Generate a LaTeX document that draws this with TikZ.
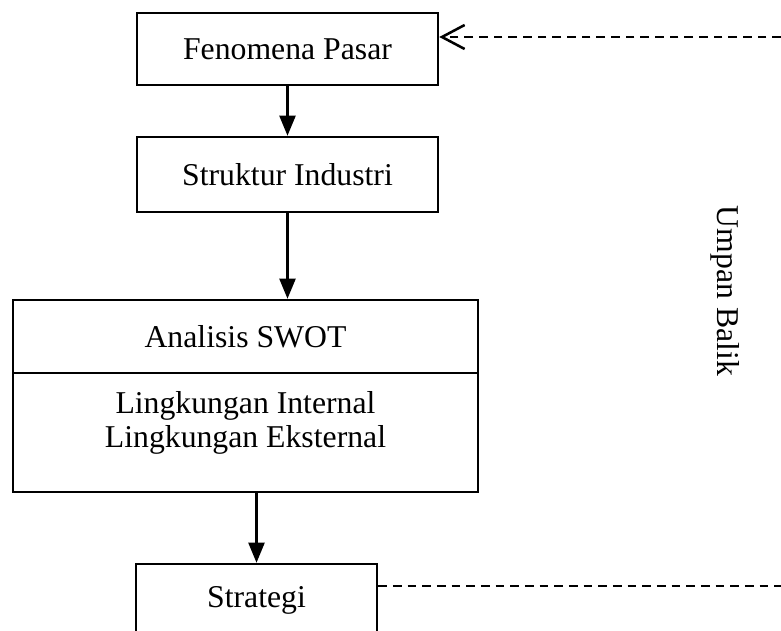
\documentclass[tikz,border=0pt]{standalone}
\usepackage{fontspec}
\setmainfont{Liberation Serif}
\usetikzlibrary{arrows.meta}

\tikzset{
  kotak/.style={draw, line width=1.9pt, inner sep=0pt, align=center},
  panah/.style={line width=1.6pt, -{Triangle[length=15pt,width=12pt]}},
  balik/.style={line width=2pt, dash pattern=on 6.5pt off 4.5pt}
}

\begin{document}
\begin{tikzpicture}[x=0.75pt,y=-0.75pt, font=\fontsize{23.8}{25}\selectfont]
        \clip (0,0) rectangle (781,631);
        \node[kotak, minimum width=225.75pt, minimum height=54pt](fenomena) at (287.5,49) {Fenomena Pasar};
        \node[kotak, minimum width=225.75pt, minimum height=56.25pt](struktur) at (287.5,174.5) {Struktur Industri};
        \node[kotak, minimum width=348.75pt, minimum height=54.75pt](swot) at (245.5,336.5) {Analisis SWOT};  % atas
        \node[kotak, minimum width=348.75pt, minimum height=89.25pt](lingk) at (245.5,432.5) {};  % bawah
        \node[align=center, inner sep=0pt](lingktxt) at (245.5,423) {Lingkungan Internal\\[0.6pt]Lingkungan Eksternal};
        \node[kotak, minimum width=180.75pt, minimum height=54pt](strategi) at (256.5,600) {Strategi};
        \node[rotate=-90, inner sep=0pt](umpan) at (725,291) {Umpan Balik};

        \draw[panah] (fenomena) -- (struktur);
        \draw[panah] (struktur.south) -- (struktur.south |- swot.north);
        \draw[panah] (strategi.north |- lingk.south) -- (strategi.north);

        % umpan balik
        \coordinate (ujung1) at (781,37);
        \coordinate (ujung2) at (781,586);
        \draw[balik, -{Straight Barb[length=17pt,width=18pt,line width=1.9pt]}] (ujung1) -- (fenomena.east |- ujung1);
        \draw[balik] (strategi.east |- ujung2) -- (ujung2);
\end{tikzpicture}
\end{document}
